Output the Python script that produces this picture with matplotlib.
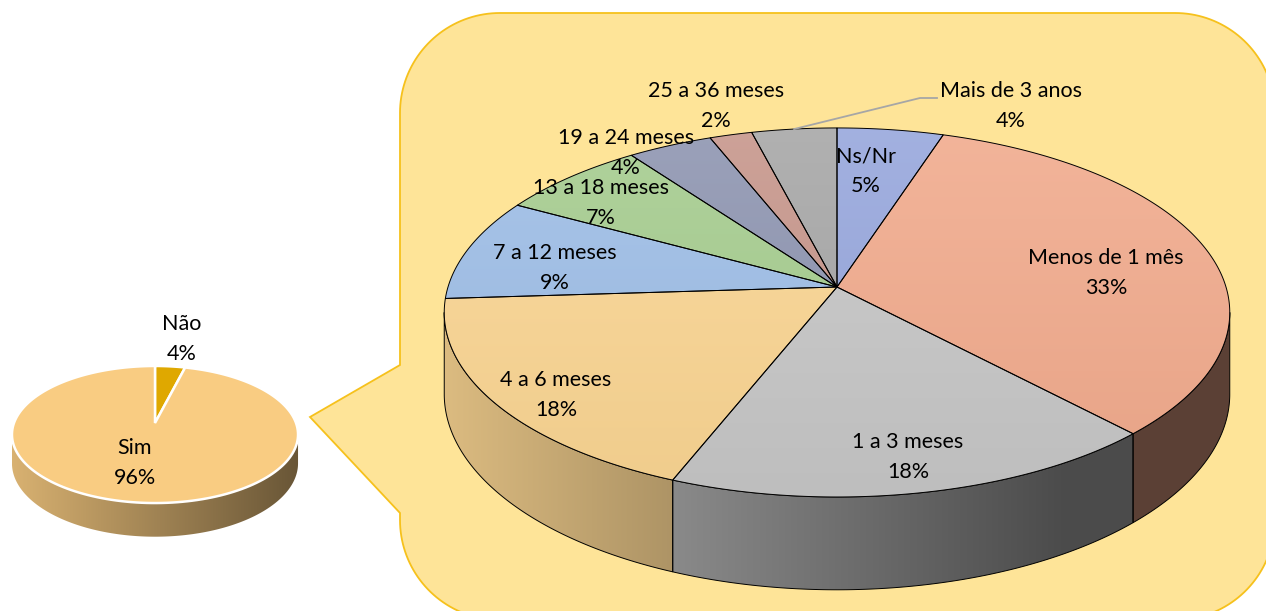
import numpy as np
import matplotlib.pyplot as plt
from matplotlib.patches import Polygon
from matplotlib.colors import to_rgb

W, H = 1266, 611

# data
small_labels = ["Não", "Sim"]
small_values = [4, 96]
small_colors = ["#dfa800", "#f9cc82"]

big_labels = ["Ns/Nr", "Menos de 1 mês", "1 a 3 meses", "4 a 6 meses",
              "7 a 12 meses", "13 a 18 meses", "19 a 24 meses",
              "25 a 36 meses", "Mais de 3 anos"]
big_values = [5, 33, 18, 18, 9, 7, 4, 2, 4]
big_colors = ["#96a6dc", "#f1aa8c", "#c6c6c6", "#fad592", "#9dbde6",
              "#a5cc8e", "#8d94b0", "#c6958a", "#a6a6a6"]

# layout (pixel coords, y down)
small_geo = dict(cx=155, cy=423, rx=141, a=66.6, k=0.168, h=28)
big_geo = dict(cx=837, cy=287, rx=389, a=181, k=0.138, h=80)
small_label_pos = [(182, 339), (135, 463)]
big_label_pos = [(866, 171), (1106, 273), (908, 457), (556, 395), (555, 268),
                 (601, 203), (626, 153), (716, 106), (1011, 106)]
FONT = "Lato"
FS = 15.5
LS = 1.62


def project(t, g, r=1.0):
    X = r * np.sin(t)
    Y = r * np.cos(t)
    d = 1 + g["k"] * Y
    return g["cx"] + g["rx"] * X / d, g["cy"] - g["a"] * Y / d


def shaded_poly(ax, xs, ys, base, edge, lw, z, hshade=None, vspan=None):
    poly = Polygon(np.column_stack([xs, ys]), closed=True, facecolor="none",
                   edgecolor=edge, lw=lw, zorder=z + 0.1)
    ax.add_patch(poly)
    c = np.array(to_rgb(base))
    if hshade is not None:
        x0, x1 = xs.min(), xs.max()
        gx = np.linspace(x0, x1, 256)
        img = c[None, None, :] * hshade(gx)[None, :, None]
        ext = (x0, x1, ys.max(), ys.min())
    else:
        y0, y1 = vspan
        s = np.linspace(0, 1, 256)[:, None]
        top = c + (1 - c) * 0.12
        bot = c * 0.96
        img = (top * (1 - s) + bot * s)[:, None, :]
        ext = (xs.min(), xs.max(), y1, y0)
    im = ax.imshow(np.clip(img, 0, 1), extent=ext, aspect="auto",
                   zorder=z, interpolation="bilinear")
    im.set_clip_path(poly)


def draw_pie3d(ax, values, colors, g, shade, edge, lw, side_edge, flat_top):
    fr = np.asarray(values, float) / np.sum(values)
    bounds = np.concatenate([[0], np.cumsum(fr)]) * 2 * np.pi
    tt = np.linspace(0, 2 * np.pi, 3601)
    xx, yy = project(tt, g)
    t_right, t_left = tt[np.argmax(xx)], tt[np.argmin(xx)]
    vspan = (yy.min(), yy.max())
    # side walls
    for i, c in enumerate(colors):
        s0, s1 = max(bounds[i], t_right), min(bounds[i + 1], t_left)
        if s1 <= s0:
            continue
        t = np.linspace(s0, s1, 200)
        xs, ys = project(t, g)
        yb = ys + g["h"] / (1 + g["k"] * np.cos(t))
        shaded_poly(ax, np.concatenate([xs, xs[::-1]]),
                    np.concatenate([ys, yb[::-1]]), c, side_edge, lw, 2,
                    hshade=shade)
    # top face
    for i, c in enumerate(colors):
        t = np.linspace(bounds[i], bounds[i + 1], 200)
        xs, ys = project(t, g)
        px, py = np.r_[g["cx"], xs], np.r_[g["cy"], ys]
        if flat_top:
            ax.add_patch(Polygon(np.column_stack([px, py]), closed=True,
                                 facecolor=c, edgecolor=edge, lw=lw, zorder=4))
        else:
            shaded_poly(ax, px, py, c, edge, lw, 4, vspan=vspan)
    return bounds


def callout(ax):
    L, R, T, B, rad = 400, 1275, 13, 620, 100
    def arc(cx, cy, a0, a1):
        a = np.radians(np.linspace(a0, a1, 40))
        return list(zip(cx + rad * np.cos(a), cy + rad * np.sin(a)))
    pts = []
    pts += arc(L + rad, T + rad, 180, 270)
    pts += arc(R - rad, T + rad, 270, 360)
    pts += arc(R - rad, B - rad, 0, 90)
    pts += arc(L + rad, B - rad, 90, 180)
    pts += [(L, 513), (310, 417), (L, 365)]
    ax.add_patch(Polygon(pts, closed=True, facecolor="#fee498",
                         edgecolor="#f6c11c", lw=1.3, zorder=0))


fig = plt.figure(figsize=(W / 100, H / 100), dpi=100)
ax = fig.add_axes([0, 0, 1, 1])

callout(ax)

draw_pie3d(ax, small_values, small_colors, small_geo,
           lambda x: 0.87 - (x - 12) * 0.45 / 286,
           "white", 1.8, "none", True)

big_shade = lambda x: np.clip(0.88 - (x - 443) * 0.56 / 697, 0.38, 1)
bounds = draw_pie3d(ax, big_values, big_colors, big_geo, big_shade,
                    "black", 0.7, "black", False)

for (x, y), lab, v in zip(small_label_pos, small_labels, small_values):
    ax.text(x, y, f"{lab}\n{v}%", ha="center", va="center", fontsize=FS,
            family=FONT, linespacing=LS, zorder=6)

for (x, y), lab, v in zip(big_label_pos, big_labels, big_values):
    ax.text(x, y, f"{lab}\n{v}%", ha="center", va="center", fontsize=FS,
            family=FONT, linespacing=LS, zorder=6)

# leader line for the last slice
mid = (bounds[-2] + bounds[-1]) / 2
lx, ly = project(np.array([mid]), big_geo)
ax.plot([lx[0], 920, 937], [ly[0], 98, 98], color="#a6a6a6", lw=1.3, zorder=5)

ax.set_xlim(0, W)
ax.set_ylim(H, 0)
ax.axis("off")
fig.savefig("out.png", dpi=100)
